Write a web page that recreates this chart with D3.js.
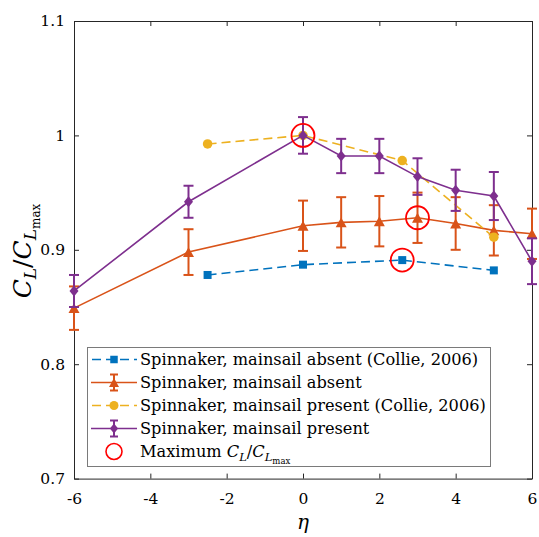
<!DOCTYPE html>
<html>
<head>
<meta charset="utf-8">
<script src="https://cdn.jsdelivr.net/npm/d3@7"></script>
<style>
  html, body { margin: 0; padding: 0; background: #fff; }
  svg { display: block; }
  svg text { font-family: "DejaVu Serif", serif; fill: #000; }
</style>
</head>
<body>
<script>
// ---------- data ----------
const xTicks = [-6, -4, -2, 0, 2, 4, 6];
const xTickLabels = ["-6", "-4", "-2", "0", "2", "4", "6"];
const yTicks = [0.7, 0.8, 0.9, 1.0, 1.1];
const yTickLabels = ["0.7", "0.8", "0.9", "1", "1.1"];

const collieAbsentEta = [-2.5, 0, 2.6, 5];
const collieAbsentVal = [0.878, 0.887, 0.891, 0.882];

const absentEta = [-6, -3, 0, 1, 2, 3, 4, 5, 6];
const absentVal = [0.849, 0.898, 0.921, 0.924, 0.925, 0.928, 0.923, 0.917, 0.914];
const absentErr = [0.019, 0.020, 0.022, 0.022, 0.022, 0.022, 0.023, 0.022, 0.022];

const colliePresentEta = [-2.5, 0, 2.6, 5];
const colliePresentVal = [0.9925, 1.0, 0.978, 0.911];

const presentEta = [-6, -3, 0, 1, 2, 3, 4, 5, 6];
const presentVal = [0.864, 0.942, 1.0, 0.982, 0.982, 0.964, 0.952, 0.947, 0.890];
const presentErr = [0.014, 0.014, 0.016, 0.015, 0.015, 0.016, 0.018, 0.021, 0.020];

const maxEta = [0, 3, 2.6];
const maxVal = [1.0, 0.928, 0.891];

const legendLabels = [
  "Spinnaker, mainsail absent (Collie, 2006)",
  "Spinnaker, mainsail absent",
  "Spinnaker, mainsail present (Collie, 2006)",
  "Spinnaker, mainsail present"
];

// ---------- layout ----------
const W = 539, H = 537;
const L = 74, R = 532, T = 21, B = 478.6;
const C_BLUE = "#0072BD", C_ORANGE = "#D95319", C_YELLOW = "#EDB120", C_PURPLE = "#7E2F8E", C_RED = "#FF0000";
const AX = "#262626";
const FONT = "DejaVu Serif";

const svg = d3.select("body").append("svg").attr("width", W).attr("height", H).attr("font-family", FONT);

const x = d3.scaleLinear().domain([-6, 6]).range([L, R]);
const y = d3.scaleLinear().domain([0.7, 1.1]).range([B, T]);

// axes
const gx = svg.append("g").attr("transform", `translate(0,${B})`)
  .call(d3.axisBottom(x).tickValues(xTicks).tickFormat((d, i) => xTickLabels[i]).tickSize(-5).tickSizeOuter(0).tickPadding(14));
const gxt = svg.append("g").attr("transform", `translate(0,${T})`)
  .call(d3.axisTop(x).tickValues(xTicks).tickFormat("").tickSize(-5).tickSizeOuter(0));
const gy = svg.append("g").attr("transform", `translate(${L},0)`)
  .call(d3.axisLeft(y).tickValues(yTicks).tickFormat((d, i) => yTickLabels[i]).tickSize(-5).tickSizeOuter(0).tickPadding(9));
const gyr = svg.append("g").attr("transform", `translate(${R},0)`)
  .call(d3.axisRight(y).tickValues(yTicks).tickFormat("").tickSize(-5).tickSizeOuter(0));
[gx, gxt, gy, gyr].forEach(g => {
  g.attr("font-family", FONT);
  g.select(".domain").attr("stroke", AX).attr("stroke-width", 1);
  g.selectAll(".tick line").attr("stroke", AX).attr("stroke-width", 1);
  g.selectAll(".tick text").attr("font-size", 15.5).attr("fill", "#000");
});

// axis labels
svg.append("text").attr("x", (L + R) / 2).attr("y", 529).attr("text-anchor", "middle")
  .attr("font-family", FONT).attr("font-size", 20).attr("font-style", "italic").text("η");

const yl = svg.append("text").attr("transform", `translate(31,251) rotate(-90)`).attr("text-anchor", "middle")
  .attr("font-family", FONT).attr("font-size", 25);
yl.append("tspan").attr("font-style", "italic").text("C");
yl.append("tspan").attr("font-style", "italic").attr("font-size", 17).attr("dy", 5).text("L");
yl.append("tspan").attr("dy", -5).text("/");
yl.append("tspan").attr("font-style", "italic").text("C");
yl.append("tspan").attr("font-style", "italic").attr("font-size", 17).attr("dy", 5).text("L");
yl.append("tspan").attr("font-size", 12).attr("dy", 4).text("max");

// ---------- series ----------
const line = d3.line().x(d => x(d[0])).y(d => y(d[1]));
const plot = svg.append("g");

function zip(a, b, c) { return a.map((v, i) => [v, b[i], c ? c[i] : 0]); }

function drawSquare(g, cx, cy, s, col) {
  g.append("rect").attr("x", cx - s / 2).attr("y", cy - s / 2).attr("width", s).attr("height", s).attr("fill", col);
}
function drawTri(g, cx, cy, s, col) {
  const h = s * 0.9;
  g.append("path").attr("d", `M${cx},${cy - h / 2}L${cx + s / 2},${cy + h / 2}L${cx - s / 2},${cy + h / 2}Z`).attr("fill", col);
}
function drawCirc(g, cx, cy, s, col) {
  g.append("circle").attr("cx", cx).attr("cy", cy).attr("r", s / 2).attr("fill", col);
}
function drawDiamond(g, cx, cy, s, col) {
  const w = s * 0.82;
  g.append("path").attr("d", `M${cx},${cy - s / 2}L${cx + w / 2},${cy}L${cx},${cy + s / 2}L${cx - w / 2},${cy}Z`).attr("fill", col);
}
function errbar(g, cx, y0, y1, cap, col) {
  g.append("line").attr("x1", cx).attr("x2", cx).attr("y1", y0).attr("y2", y1).attr("stroke", col).attr("stroke-width", 2);
  g.append("line").attr("x1", cx - cap).attr("x2", cx + cap).attr("y1", y0).attr("y2", y0).attr("stroke", col).attr("stroke-width", 2);
  g.append("line").attr("x1", cx - cap).attr("x2", cx + cap).attr("y1", y1).attr("y2", y1).attr("stroke", col).attr("stroke-width", 2);
}

// Blue: Collie absent
const dBlue = zip(collieAbsentEta, collieAbsentVal);
plot.append("path").datum(dBlue).attr("d", line).attr("fill", "none").attr("stroke", C_BLUE).attr("stroke-width", 1.6).attr("stroke-dasharray", "9,5");
dBlue.forEach(d => drawSquare(plot, x(d[0]), y(d[1]), 8, C_BLUE));

// Orange: absent
const dOr = zip(absentEta, absentVal, absentErr);
plot.append("path").datum(dOr).attr("d", line).attr("fill", "none").attr("stroke", C_ORANGE).attr("stroke-width", 1.6);
dOr.forEach(d => errbar(plot, x(d[0]), y(d[1] + d[2]), y(d[1] - d[2]), 5, C_ORANGE));
dOr.forEach(d => drawTri(plot, x(d[0]), y(d[1]), 11, C_ORANGE));

// Yellow: Collie present
const dYe = zip(colliePresentEta, colliePresentVal);
plot.append("path").datum(dYe).attr("d", line).attr("fill", "none").attr("stroke", C_YELLOW).attr("stroke-width", 1.6).attr("stroke-dasharray", "9,5");
dYe.forEach(d => drawCirc(plot, x(d[0]), y(d[1]), 9.5, C_YELLOW));

// Purple: present
const dPu = zip(presentEta, presentVal, presentErr);
plot.append("path").datum(dPu).attr("d", line).attr("fill", "none").attr("stroke", C_PURPLE).attr("stroke-width", 1.6);
dPu.forEach(d => errbar(plot, x(d[0]), y(d[1] + d[2]), y(d[1] - d[2]), 5, C_PURPLE));
dPu.forEach(d => drawDiamond(plot, x(d[0]), y(d[1]), 11, C_PURPLE));

// Max circles
zip(maxEta, maxVal).forEach(d => {
  plot.append("circle").attr("cx", x(d[0])).attr("cy", y(d[1])).attr("r", 11.5)
    .attr("fill", "none").attr("stroke", C_RED).attr("stroke-width", 1.8);
});

// ---------- legend ----------
const lg = svg.append("g").attr("font-family", FONT);
lg.append("rect").attr("x", 87.5).attr("y", 347.5).attr("width", 403).attr("height", 119)
  .attr("fill", "#fff").attr("stroke", "#7a7a7a").attr("stroke-width", 1);
const rowY = i => 359.5 + i * 23;
const lx0 = 91, lx1 = 137, lmx = 114, tx = 140;

// row 0
lg.append("line").attr("x1", lx0).attr("x2", lx1).attr("y1", rowY(0)).attr("y2", rowY(0))
  .attr("stroke", C_BLUE).attr("stroke-width", 1.6).attr("stroke-dasharray", "9,5").attr("stroke-dashoffset", -1);
drawSquare(lg, lmx, rowY(0), 7.5, C_BLUE);
// row 1
lg.append("line").attr("x1", lx0).attr("x2", lx1).attr("y1", rowY(1)).attr("y2", rowY(1)).attr("stroke", C_ORANGE).attr("stroke-width", 1.6);
errbar(lg, lmx, rowY(1) - 8, rowY(1) + 8, 4, C_ORANGE);
drawTri(lg, lmx, rowY(1), 10, C_ORANGE);
// row 2
lg.append("line").attr("x1", lx0).attr("x2", lx1).attr("y1", rowY(2)).attr("y2", rowY(2))
  .attr("stroke", C_YELLOW).attr("stroke-width", 1.6).attr("stroke-dasharray", "9,5").attr("stroke-dashoffset", -1);
drawCirc(lg, lmx, rowY(2), 9, C_YELLOW);
// row 3
lg.append("line").attr("x1", lx0).attr("x2", lx1).attr("y1", rowY(3)).attr("y2", rowY(3)).attr("stroke", C_PURPLE).attr("stroke-width", 1.6);
errbar(lg, lmx, rowY(3) - 8, rowY(3) + 8, 4, C_PURPLE);
drawDiamond(lg, lmx, rowY(3), 10, C_PURPLE);
// row 4
lg.append("circle").attr("cx", lmx).attr("cy", rowY(4)).attr("r", 8).attr("fill", "none").attr("stroke", C_RED).attr("stroke-width", 1.6);

legendLabels.forEach((t, i) => {
  lg.append("text").attr("x", tx).attr("y", rowY(i) + 5.5).attr("font-family", FONT).attr("font-size", 16.2).text(t);
});
const lt = lg.append("text").attr("x", tx).attr("y", rowY(4) + 5.5).attr("font-family", FONT).attr("font-size", 16.2);
lt.append("tspan").text("Maximum ");
lt.append("tspan").attr("font-style", "italic").text("C");
lt.append("tspan").attr("font-style", "italic").attr("font-size", 11.5).attr("dy", 4).text("L");
lt.append("tspan").attr("dy", -4).text("/");
lt.append("tspan").attr("font-style", "italic").text("C");
lt.append("tspan").attr("font-style", "italic").attr("font-size", 11.5).attr("dy", 4).text("L");
lt.append("tspan").attr("font-size", 8.5).attr("dy", 3).text("max");
</script>
</body>
</html>
